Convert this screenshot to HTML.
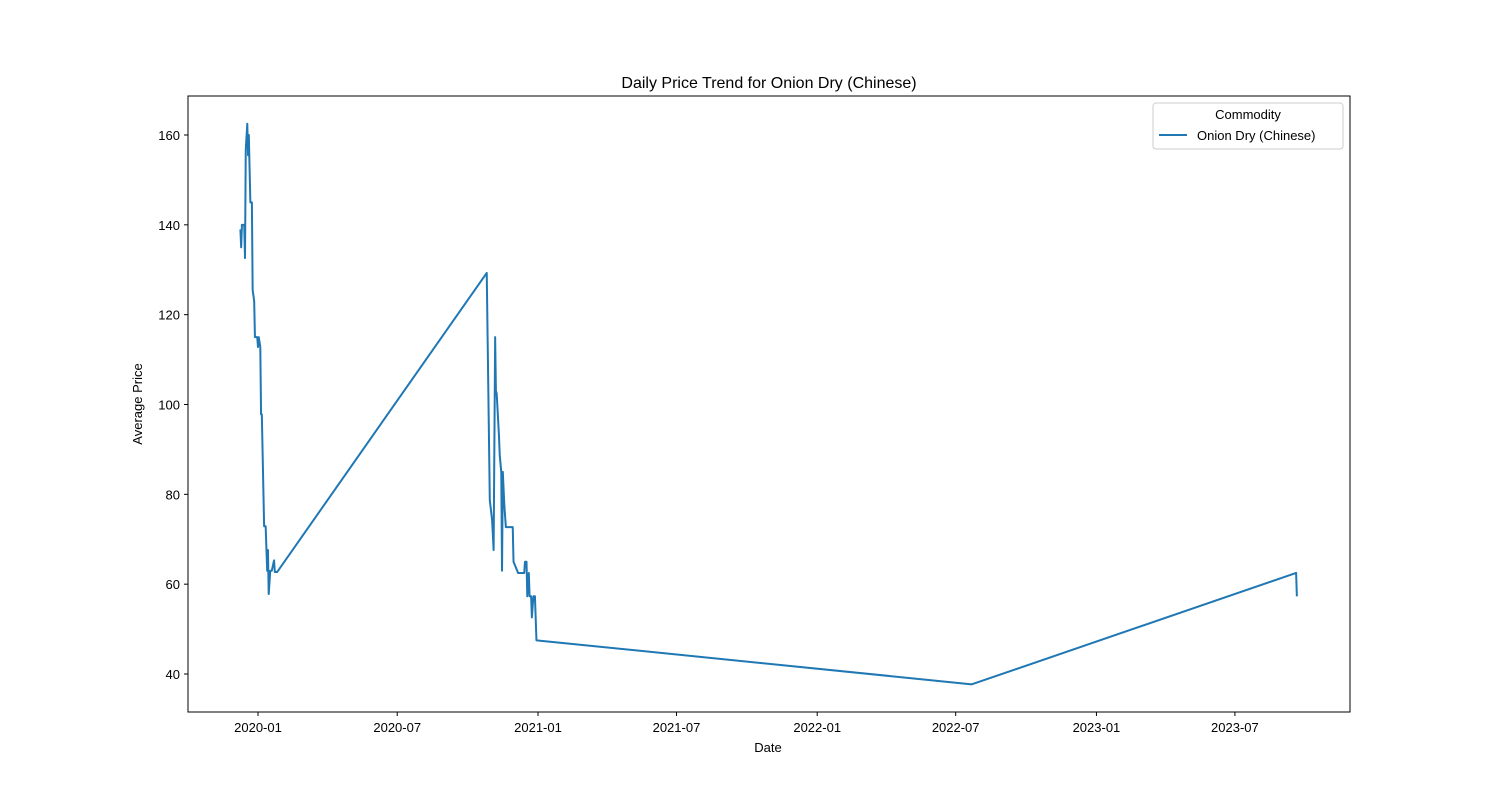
<!DOCTYPE html>
<html><head><meta charset="utf-8"><style>
body{margin:0;background:#fff}
text{font-family:"Liberation Sans","DejaVu Sans",sans-serif;fill:#000}
</style></head><body>
<svg id="chart" width="1500" height="800">
<rect width="1500" height="800" fill="#fff"/>
<text x="769" y="88" font-size="16" text-anchor="middle">Daily Price Trend for Onion Dry (Chinese)</text>
<g id="axes"></g>
<path id="line" fill="none" stroke="#1f77b4" stroke-width="2" stroke-linejoin="round"/>
<rect x="188" y="96" width="1162" height="616" fill="none" stroke="#000" stroke-width="1"/>
<text x="768" y="752" font-size="13" text-anchor="middle">Date</text>
<text transform="translate(142,404) rotate(-90)" font-size="13" text-anchor="middle">Average Price</text>
<g>
<rect x="1153" y="103" width="190" height="46" rx="3" fill="#fff" stroke="#ccc"/>
<text x="1248" y="119" font-size="13" text-anchor="middle">Commodity</text>
<line x1="1159" y1="135" x2="1187" y2="135" stroke="#1f77b4" stroke-width="2"/>
<text x="1197" y="140" font-size="13">Onion Dry (Chinese)</text>
</g>
</svg>
<script>
const dates=["2019-12-09","2019-12-10","2019-12-11","2019-12-14","2019-12-15","2019-12-16","2019-12-18","2019-12-19","2019-12-20","2019-12-22","2019-12-24","2019-12-25","2019-12-27","2019-12-28","2019-12-31","2020-01-01","2020-01-02","2020-01-04","2020-01-05","2020-01-06","2020-01-09","2020-01-11","2020-01-13","2020-01-14","2020-01-15","2020-01-17","2020-01-19","2020-01-22","2020-01-23","2020-01-26","2020-10-26","2020-10-30","2020-11-02","2020-11-04","2020-11-06","2020-11-07","2020-11-08","2020-11-11","2020-11-12","2020-11-14","2020-11-15","2020-11-16","2020-11-18","2020-11-20","2020-11-29","2020-11-30","2020-12-06","2020-12-14","2020-12-15","2020-12-17","2020-12-18","2020-12-20","2020-12-21","2020-12-23","2020-12-24","2020-12-26","2020-12-28","2020-12-30","2022-07-22","2023-09-19","2023-09-20"];
const prices=[139,135,140,140,132.6,156.7,162.5,155.5,160,145,145,125.5,123,115,115,112.8,115,112.8,97.8,97.8,72.9,72.9,63,67.6,57.8,63,63,65.3,62.7,62.7,129.3,78.7,74.3,67.6,115,103,102.5,93,88.7,85,63,85,77.6,72.7,72.7,65,62.5,62.5,65,65,57.3,62.5,57.3,57.3,52.6,57.3,57.3,47.5,37.7,62.5,57.3];
const yTicks=[40,60,80,100,120,140,160];
const xTicks=["2020-01","2020-07","2021-01","2021-07","2022-01","2022-07","2023-01","2023-07"];
const t0=Date.UTC(2020,0,1),day=864e5;
function xs(s){const p=s.split("-").map(Number);const t=Date.UTC(p[0],p[1]-1,p[2]||1);return 258+(t-t0)/day*0.765;}
function ys(v){return 135+(160-v)*4.4917;}
const NS="http://www.w3.org/2000/svg",ax=document.getElementById("axes");
function mk(tag,attrs){const e=document.createElementNS(NS,tag);for(const k in attrs)e.setAttribute(k,attrs[k]);ax.appendChild(e);return e;}
yTicks.forEach(v=>{const y=ys(v);
const l=mk("line",{x1:184,x2:188,y1:y,y2:y,stroke:"#000"});


const t=mk("text",{x:180,y:y+5,"font-size":13,"text-anchor":"end"});t.textContent=v;

});
xTicks.forEach(s=>{const x=xs(s);
const l=mk("line",{x1:x,x2:x,y1:712,y2:716,stroke:"#000"});


const t=mk("text",{x:x,y:732,"font-size":13,"text-anchor":"middle"});t.textContent=s;

});
document.getElementById("line").setAttribute("d",dates.map((d,i)=>(i?"L":"M")+xs(d).toFixed(2)+","+ys(prices[i]).toFixed(2)).join(""));
</script>
</body></html>
